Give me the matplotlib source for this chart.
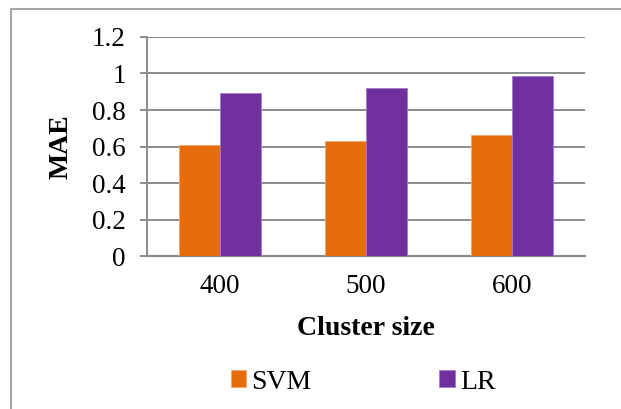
import numpy as np
import matplotlib
matplotlib.use('Agg')
import matplotlib.pyplot as plt
from matplotlib.lines import Line2D

# data
cluster_sizes = ['400', '500', '600']
svm_mae = [0.61, 0.63, 0.665]
lr_mae = [0.895, 0.92, 0.985]
y_ticks = [0, 0.2, 0.4, 0.6, 0.8, 1, 1.2]
y_tick_labels = ['0', '0.2', '0.4', '0.6', '0.8', '1', '1.2']

svm_color = '#E46C0A'
lr_color = '#7030A0'
grid_color = '#8C8C8C'

plt.rcParams['font.family'] = ['Liberation Serif', 'DejaVu Serif']

fig = plt.figure(figsize=(6.21, 4.09), dpi=100)
ax = fig.add_axes([0.236, 0.373, 0.706, 0.537])

x = np.arange(len(cluster_sizes))
w = 0.28
ax.bar(x - w / 2, svm_mae, w, color=svm_color, edgecolor='#F4A46A', linewidth=0.6, label='SVM', zorder=3)
ax.bar(x + w / 2, lr_mae, w, color=lr_color, edgecolor='#A77BC9', linewidth=0.6, label='LR', zorder=3)

ax.set_xlim(-0.5, len(cluster_sizes) - 0.5)
ax.set_ylim(0, 1.2)
ax.set_yticks(y_ticks)
ax.set_yticklabels(y_tick_labels, fontsize=19.5)
ax.set_xticks(x)
ax.set_xticklabels(cluster_sizes, fontsize=19.5)

ax.grid(axis='y', color=grid_color, linewidth=1.4, zorder=0)
ax.set_axisbelow(True)
for s in ['top', 'right']:
    ax.spines[s].set_visible(False)
ax.spines['left'].set_color(grid_color)
ax.spines['left'].set_linewidth(1.4)
ax.spines['bottom'].set_color(grid_color)
ax.spines['bottom'].set_linewidth(1.6)
ax.tick_params(axis='y', length=5, width=1.4, color=grid_color, pad=10)
ax.tick_params(axis='x', length=0, pad=13)

ax.set_xlabel('Cluster size', fontsize=20, fontweight='bold', labelpad=12)
ax.set_ylabel('MAE', fontsize=20, fontweight='bold', labelpad=13)

fig.legend(loc='center', bbox_to_anchor=(0.585, 0.066), ncol=2, frameon=False,
           fontsize=20, handlelength=0.55, handleheight=0.55, handletextpad=0.2,
           columnspacing=4.6)

# outer chart border (left and top edges visible)
fig.add_artist(Line2D([0.0177, 0.0177], [0, 0.978], transform=fig.transFigure,
                      color='#A6A6A6', linewidth=1.5))
fig.add_artist(Line2D([0.0177, 1.0], [0.978, 0.978], transform=fig.transFigure,
                      color='#A6A6A6', linewidth=1.5))

fig.savefig('out.png', dpi=100)
